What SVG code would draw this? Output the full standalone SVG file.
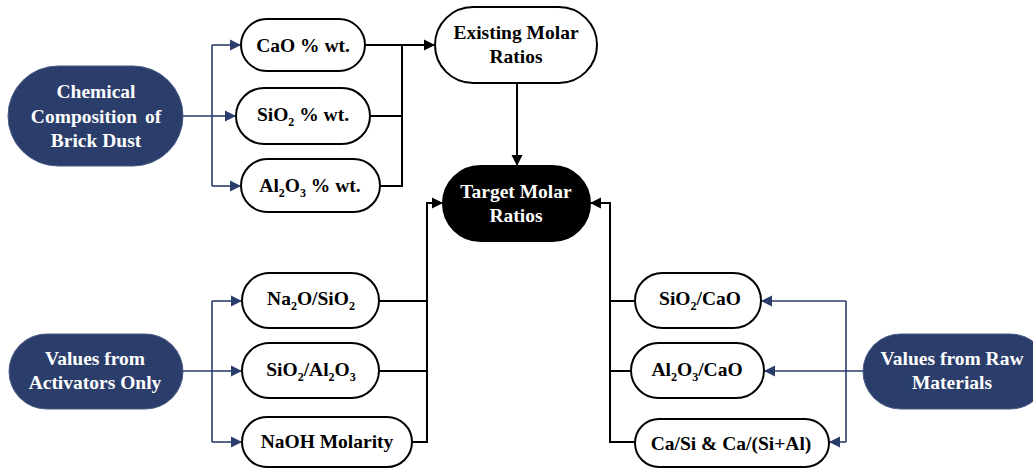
<svg xmlns="http://www.w3.org/2000/svg" width="1033" height="470" viewBox="0 0 1033 470">
<defs>
<style>
.box{fill:#fff;stroke:#000;stroke-width:2}
.dark{fill:#2b3d6b;stroke:#4a5b85;stroke-width:1}
.black{fill:#000;stroke:#000;stroke-width:2}
text{font-weight:bold;font-size:19.5px;text-anchor:middle;fill:#000}
.w{fill:#fff}
.k{fill:none;stroke:#000;stroke-width:2}
.b{fill:none;stroke:#2b3d6b;stroke-width:1.6}
</style>
<marker id="ak" markerUnits="userSpaceOnUse" markerWidth="12" markerHeight="12" refX="11" refY="6" orient="auto"><path d="M0,0.5 L11,6 L0,11.5 z" fill="#000"/></marker>
<marker id="ab" markerUnits="userSpaceOnUse" markerWidth="12" markerHeight="12" refX="11" refY="6" orient="auto"><path d="M0,0.5 L11,6 L0,11.5 z" fill="#2b3d6b"/></marker>
</defs>
<rect width="1033" height="470" fill="#fff"/>
<g id="connectors">
<path class="b" d="M183,116 H212 M212,45 V186"/>
<path class="b" d="M212,45 H241" marker-end="url(#ab)"/>
<path class="b" d="M212,116 H236" marker-end="url(#ab)"/>
<path class="b" d="M212,186 H241" marker-end="url(#ab)"/>
<path class="k" d="M365,45 H402 M370,116 H402 M380,186 H402 M402,45 V187"/>
<path class="k" d="M402,45 H435" marker-end="url(#ak)"/>
<path class="k" d="M517,83 V166" marker-end="url(#ak)"/>
<path class="b" d="M183,371 H212 M212,301 V442"/>
<path class="b" d="M212,301 H242" marker-end="url(#ab)"/>
<path class="b" d="M212,371 H242" marker-end="url(#ab)"/>
<path class="b" d="M212,442 H242" marker-end="url(#ab)"/>
<path class="k" d="M379,301 H427 M379,371 H427 M412,442 H427"/>
<path class="k" d="M427,443 V203 H443" marker-end="url(#ak)"/>
<path class="k" d="M635,301 H610 M631,371 H610 M635,442 H610"/>
<path class="k" d="M610,443 V203 H590" marker-end="url(#ak)"/>
<path class="b" d="M863,371 H764" marker-end="url(#ab)"/>
<path class="b" d="M846,301 V442"/>
<path class="b" d="M846,301 H761" marker-end="url(#ab)"/>
<path class="b" d="M846,442 H829" marker-end="url(#ab)"/>
</g>
<g font-family="'Liberation Serif', 'Times New Roman', 'DejaVu Serif', serif">
<g id="chem"><rect class="dark" x="8" y="66" width="175" height="100" rx="50"/><text class="w" x="96" y="98">Chemical</text><text class="w" x="96" y="123" word-spacing="3">Composition of</text><text class="w" x="96" y="147">Brick Dust</text></g>
<g id="cao"><rect class="box" x="241" y="19" width="124" height="52" rx="26"/><text x="303" y="52">CaO % wt.</text></g>
<g id="sio2w"><rect class="box" x="236" y="88" width="134" height="56" rx="28"/><text x="303" y="121">SiO<tspan font-size="12" dy="5">2</tspan><tspan dy="-5"> % wt.</tspan></text></g>
<g id="al2o3w"><rect class="box" x="241" y="159" width="139" height="53" rx="26.5"/><text x="310" y="192">Al<tspan font-size="12" dy="5">2</tspan><tspan dy="-5">O</tspan><tspan font-size="12" dy="5">3</tspan><tspan dy="-5"> % wt.</tspan></text></g>
<g id="existing"><rect class="box" x="435" y="7" width="162" height="76" rx="38"/><text x="516" y="39">Existing Molar</text><text x="516" y="63">Ratios</text></g>
<g id="target"><rect class="black" x="443" y="166" width="147" height="75" rx="37.5"/><text class="w" x="516" y="198">Target Molar</text><text class="w" x="516" y="222">Ratios</text></g>
<g id="activators"><rect class="dark" x="9" y="334" width="174" height="75" rx="37.5"/><text class="w" x="95" y="365">Values from</text><text class="w" x="95" y="389">Activators Only</text></g>
<g id="na2o"><rect class="box" x="242" y="273" width="137" height="55" rx="27.5"/><text x="311" y="305">Na<tspan font-size="12" dy="5">2</tspan><tspan dy="-5">O/SiO</tspan><tspan font-size="12" dy="5">2</tspan></text></g>
<g id="sio2al"><rect class="box" x="242" y="343" width="137" height="55" rx="27.5"/><text x="311" y="376">SiO<tspan font-size="12" dy="5">2</tspan><tspan dy="-5">/Al</tspan><tspan font-size="12" dy="5">2</tspan><tspan dy="-5">O</tspan><tspan font-size="12" dy="5">3</tspan></text></g>
<g id="naoh"><rect class="box" x="242" y="417" width="170" height="50" rx="25"/><text x="327" y="448">NaOH Molarity</text></g>
<g id="sio2cao"><rect class="box" x="635" y="273" width="126" height="55" rx="27.5"/><text x="700" y="305">SiO<tspan font-size="12" dy="5">2</tspan><tspan dy="-5">/CaO</tspan></text></g>
<g id="al2o3cao"><rect class="box" x="631" y="343" width="133" height="55" rx="27.5"/><text x="697" y="376">Al<tspan font-size="12" dy="5">2</tspan><tspan dy="-5">O</tspan><tspan font-size="12" dy="5">3</tspan><tspan dy="-5">/CaO</tspan></text></g>
<g id="casi"><rect class="box" x="635" y="419" width="194" height="48" rx="24"/><text x="731" y="450">Ca/Si &amp; Ca/(Si+Al)</text></g>
<g id="raw"><rect class="dark" x="863" y="334" width="185" height="75" rx="37.5"/><text class="w" x="952" y="365">Values from Raw</text><text class="w" x="952" y="389">Materials</text></g>
</g>
</svg>
